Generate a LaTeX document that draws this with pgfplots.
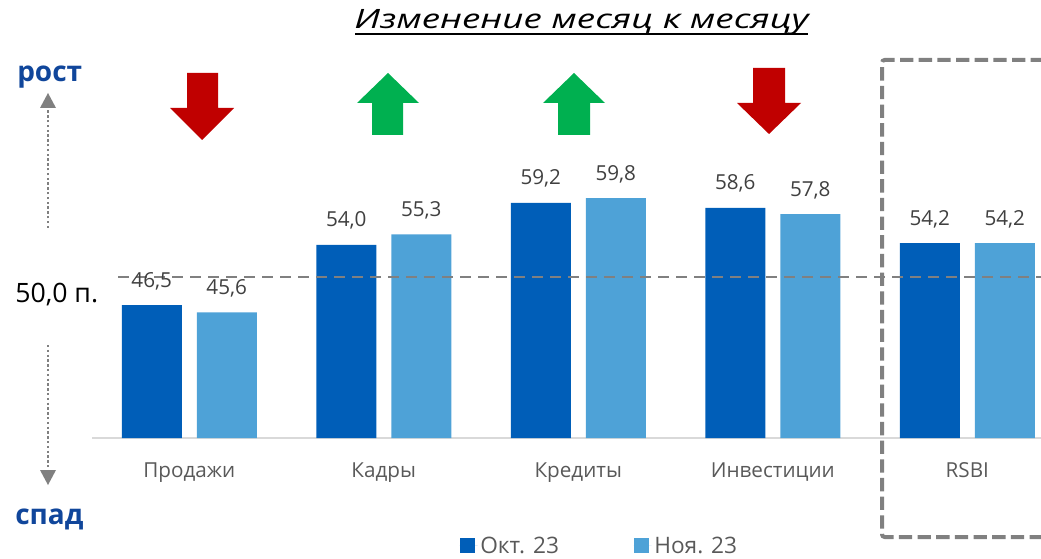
\documentclass[border=0pt]{standalone}
\usepackage{fontspec}
\setmainfont{Open Sans}
\usepackage{pgfplots}
\pgfplotsset{compat=1.18}
\definecolor{octblue}{RGB}{0,94,184}
\definecolor{novblue}{RGB}{78,162,215}
\definecolor{txtgray}{RGB}{89,89,89}
\definecolor{valgray}{RGB}{64,64,64}
\definecolor{dashgray}{RGB}{128,128,128}
\definecolor{basegray}{RGB}{217,217,217}
\definecolor{upgreen}{RGB}{0,176,80}
\definecolor{downred}{RGB}{192,0,0}
\definecolor{headblue}{RGB}{16,70,155}

\begin{document}
\begin{tikzpicture}[x=0.75pt,y=-0.75pt]
\path[use as bounding box, clip] (0,0) rectangle (1041,559);
\begin{axis}[
    at={(69pt,-328.5pt)}, anchor=south west,
    scale only axis, width=711.75pt, height=211.3125pt,
    xmin=-0.5, xmax=4.379, ymin=30, ymax=65,
    axis x line*=bottom, hide y axis,
    x axis line style={basegray, line width=1.5pt},
    xtick={0,1,2,3,4},
    xticklabels={Продажи,Кадры,Кредиты,Инвестиции,RSBI},
    major tick length=0pt,
    xticklabel style={font=\fontsize{15.5}{18}\selectfont, text=txtgray, anchor=base, yshift=-29.25pt},
    ybar, bar width=45pt,
    nodes near coords,
    every node near coord/.append style={font=\fontsize{15.5}{18}\selectfont, text=valgray, anchor=base, yshift=13.5pt},
    /pgf/number format/fixed,
    /pgf/number format/fixed zerofill,
    /pgf/number format/precision=1,
    /pgf/number format/use comma,
    /pgf/number format/assume math mode=true,
    legend style={at={(0.535,-0.383)}, anchor=center, draw=none, fill=none,
        legend columns=2, font=\fontsize{17}{20}\selectfont, text=txtgray,
        /tikz/every even column/.append style={column sep=54pt}},
    legend image code/.code={\fill[#1] (0pt,-5pt) rectangle (11.25pt,6.25pt);
        \path (0pt,0pt) -- (13.5pt,0pt);},
]
% Okt. 23
\addplot[fill=octblue, draw=none, bar shift=-28.125pt] coordinates {
    (0,46.5) (1,54.0) (2,59.2) (3,58.6) (4,54.2)
};
\addlegendentry{Окт. 23}
% Noya. 23
\addplot[fill=novblue, draw=none, bar shift=28.125pt] coordinates {
    (0,45.6) (1,55.3) (2,59.8) (3,57.8) (4,54.2)
};
\addlegendentry{Ноя. 23}

% 50 line
\draw[dashgray, line width=1.5pt, dash pattern=on 8.25pt off 5.25pt]
    (axis cs:-0.365,50) -- (axis cs:4.379,50);
\end{axis}

% title
\node[anchor=base, font=\itshape\fontsize{20}{24}\selectfont, inner sep=0] at (581.5,29)
    {\scalebox{1.38}[1]{Изменение месяц к месяцу}};
\draw[line width=1.9pt] (355,34) -- (808,34);

% side labels
\node[anchor=base west, font=\bfseries\fontsize{21}{24}\selectfont, text=headblue, inner sep=0] at (17,82) {рост};
\node[anchor=base west, font=\bfseries\fontsize{21}{24}\selectfont, text=headblue, inner sep=0] at (15,524) {спад};
\node[anchor=base west, font=\fontsize{20}{24}\selectfont, inner sep=0] at (15,302) {50,0 п.};

% dotted arrows
\draw[dashgray, line width=1.8pt, dash pattern=on 1.8pt off 1.8pt] (48,228) -- (48,106);
\fill[dashgray] (40,108) -- (56,108) -- (48,93) -- cycle;
\draw[dashgray, line width=1.8pt, dash pattern=on 1.8pt off 1.8pt] (48,345) -- (48,472);
\fill[dashgray] (40,470) -- (56,470) -- (48,485) -- cycle;

% change arrows
\fill[downred] (187,73) -- (218,73) -- (218,108) -- (234,108) -- (202,140) -- (170,108) -- (187,108) -- cycle;
\fill[upgreen] (388,73) -- (419,103) -- (403,103) -- (403,135) -- (372,135) -- (372,103) -- (357,103) -- cycle;
\fill[upgreen] (574,73) -- (605,103) -- (590,103) -- (590,135) -- (558,135) -- (558,103) -- (543,103) -- cycle;
\fill[downred] (753,68) -- (785,68) -- (785,103) -- (801,103) -- (769,134) -- (737,103) -- (753,103) -- cycle;

% RSBI box
\draw[dashgray, line width=3pt, dash pattern=on 10pt off 4pt, rounded corners=2pt]
    (1100,60) -- (882,60) -- (882,537) -- (1100,537);
\end{tikzpicture}
\end{document}
